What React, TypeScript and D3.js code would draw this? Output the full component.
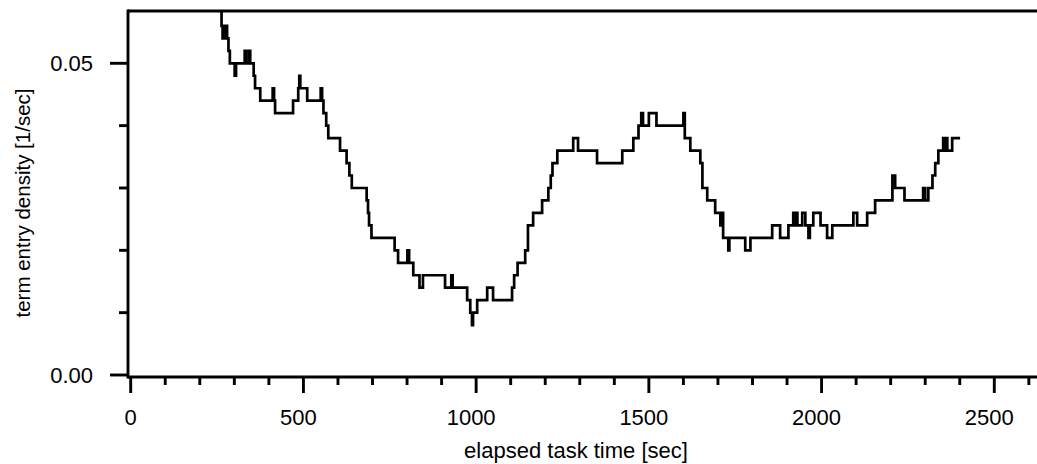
import React from "react";
import * as d3 from "d3";

// Step-function data: value holds from each time until the next one
const times = [
  259, 263, 266, 270, 273, 276, 279, 283, 287, 301, 305, 330, 334, 342, 346, 356, 360, 375,
  411, 415, 418, 470, 485, 488, 491, 511, 550, 554, 558, 566, 572, 606, 625, 633, 640, 683,
  687, 690, 697, 764, 774, 801, 806, 818, 836, 846, 910, 928, 932, 974, 983, 988, 991, 1003,
  1032, 1049, 1104, 1110, 1120, 1142, 1150, 1165, 1191, 1209, 1216, 1221, 1235, 1281, 1295,
  1350, 1423, 1455, 1470, 1478, 1483, 1500, 1522, 1600, 1604, 1620, 1649, 1655, 1669, 1692,
  1707, 1712, 1715, 1730, 1733, 1779, 1794, 1857, 1880, 1904, 1918, 1922, 1926, 1930, 1944,
  1953, 1962, 1966, 1976, 1997, 2016, 2031, 2092, 2103, 2132, 2155, 2205, 2213, 2240, 2294,
  2300, 2309, 2321, 2329, 2338, 2352, 2356, 2360, 2364, 2378, 2401,
];
const density = [
  0.058, 0.056, 0.054, 0.056, 0.054, 0.056, 0.054, 0.052, 0.05, 0.048, 0.05, 0.052, 0.05, 0.052,
  0.05, 0.048, 0.046, 0.044, 0.046, 0.044, 0.042, 0.044, 0.046, 0.048, 0.046, 0.044, 0.046, 0.044,
  0.042, 0.04, 0.038, 0.036, 0.034, 0.032, 0.03, 0.028, 0.026, 0.024, 0.022, 0.02, 0.018, 0.02,
  0.018, 0.016, 0.014, 0.016, 0.014, 0.016, 0.014, 0.012, 0.01, 0.008, 0.01, 0.012, 0.014, 0.012,
  0.014, 0.016, 0.018, 0.02, 0.024, 0.026, 0.028, 0.03, 0.032, 0.034, 0.036, 0.038, 0.036, 0.034,
  0.036, 0.038, 0.04, 0.042, 0.04, 0.042, 0.04, 0.042, 0.038, 0.036, 0.034, 0.03, 0.028, 0.026,
  0.024, 0.026, 0.022, 0.02, 0.022, 0.02, 0.022, 0.024, 0.022, 0.024, 0.026, 0.024, 0.026, 0.024,
  0.026, 0.024, 0.022, 0.024, 0.026, 0.024, 0.022, 0.024, 0.026, 0.024, 0.026, 0.028, 0.032, 0.03,
  0.028, 0.03, 0.028, 0.03, 0.032, 0.034, 0.036, 0.038, 0.036, 0.038, 0.036, 0.038, 0.038,
];

const xMajorTicks = [0, 500, 1000, 1500, 2000, 2500];
const xTickLabels = ["0", "500", "1000", "1500", "2000", "2500"];
const yMajorTicks = [0, 0.05];
const yTickLabels = ["0.00", "0.05"];
const xLabel = "elapsed task time [sec]";
const yLabel = "term entry density [1/sec]";

const W = 1037;
const H = 464;
const FONT = "'Liberation Sans', Arial, Helvetica, sans-serif";

export default function App() {
  const x = d3.scaleLinear().domain([0, 2500]).range([130.7, 994.3]);
  const y = d3.scaleLinear().domain([0, 0.05]).range([375, 63.3]);

  const axisX = 128;
  const axisY = 377;
  const topY = 11;
  const sw = 2.9;

  const xMinor = d3.range(0, 2601, 100).filter((t) => t % 500 !== 0);
  const yMinor = [0.01, 0.02, 0.03, 0.04];

  const pts: [number, number][] = times.map((t, i) => [t, density[i]]);
  const line = d3
    .line<[number, number]>()
    .x((d) => x(d[0]))
    .y((d) => y(d[1]))
    .curve(d3.curveStepAfter);

  return (
    <svg
      width={W}
      height={H}
      style={{ position: "absolute", left: 0, top: 0, background: "#fff" }}
      fontFamily={FONT}
    >
      <rect x={0} y={0} width={W} height={H} fill="#fff" />
      {/* frame */}
      <line x1={axisX} y1={topY} x2={W} y2={topY} stroke="#000" strokeWidth={sw} />
      <line x1={axisX} y1={topY - 1.4} x2={axisX} y2={axisY + 1.4} stroke="#000" strokeWidth={sw} />
      <line x1={axisX} y1={axisY} x2={W} y2={axisY} stroke="#000" strokeWidth={sw} />

      {/* x ticks */}
      {xMajorTicks.map((t, i) => (
        <g key={"xm" + t}>
          <line x1={x(t)} y1={axisY} x2={x(t)} y2={axisY + 16} stroke="#000" strokeWidth={sw} />
          <text
            x={x(t) + (xTickLabels[i].length > 1 ? -5 : 0)}
            y={425}
            fontSize={22}
            textAnchor="middle"
            fill="#000"
          >
            {xTickLabels[i]}
          </text>
        </g>
      ))}
      {xMinor.map((t) => (
        <line key={"xn" + t} x1={x(t)} y1={axisY} x2={x(t)} y2={axisY + 8} stroke="#000" strokeWidth={sw} />
      ))}

      {/* y ticks */}
      {yMajorTicks.map((v, i) => (
        <g key={"ym" + v}>
          <line x1={axisX - 18} y1={y(v)} x2={axisX} y2={y(v)} stroke="#000" strokeWidth={sw} />
          <text x={93} y={y(v) + 8} fontSize={22} textAnchor="end" fill="#000">
            {yTickLabels[i]}
          </text>
        </g>
      ))}
      {yMinor.map((v) => (
        <line key={"yn" + v} x1={axisX - 9} y1={y(v)} x2={axisX} y2={y(v)} stroke="#000" strokeWidth={sw} />
      ))}

      {/* data */}
      <path d={line(pts) || ""} fill="none" stroke="#000" strokeWidth={2.7} strokeLinejoin="miter" />

      {/* titles */}
      <text x={576} y={458} fontSize={22} textAnchor="middle" fill="#000">
        {xLabel}
      </text>
      <text
        transform={`translate(30, 203) rotate(-90)`}
        fontSize={20.5}
        textAnchor="middle"
        fill="#000"
      >
        {yLabel}
      </text>
    </svg>
  );
}
